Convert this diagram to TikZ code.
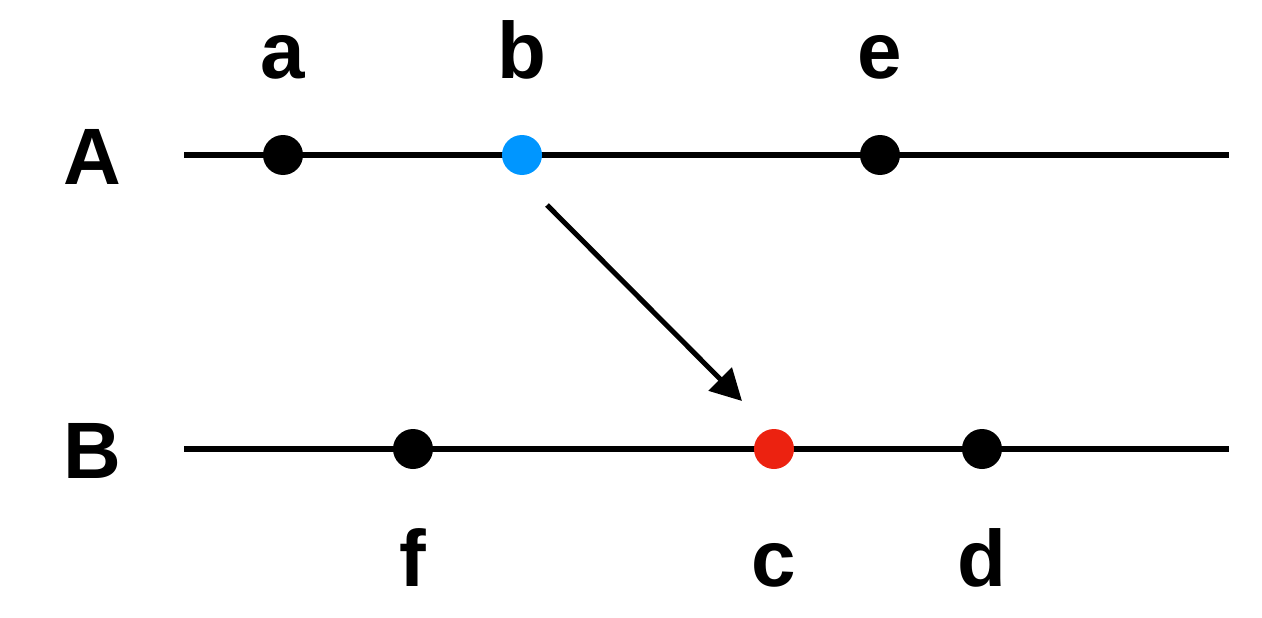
\documentclass[tikz,border=0pt]{standalone}
\usepackage{fontspec}
\setmainfont{Liberation Sans}
\usetikzlibrary{arrows.meta}
\definecolor{dotblue}{RGB}{0,150,255}
\definecolor{dotred}{RGB}{236,34,16}
\begin{document}
\begin{tikzpicture}[x=1pt,y=-1pt,
  dotnode/.style={circle,fill=black,draw=none,minimum size=40pt,inner sep=0pt},
  lbl/.style={anchor=base,font=\fontsize{80}{96}\selectfont\bfseries,inner sep=0pt},
  timeline/.style={line width=5.5pt},
  msg/.style={line width=5pt,-{Triangle[length=31pt,width=32pt]}}]
\useasboundingbox (0,0) rectangle (1262,618);
% lines
\coordinate (A0) at (184,155);
\coordinate (A1) at (1229,155);
\coordinate (B0) at (184,449);
\coordinate (B1) at (1229,449);
\draw[timeline] (A0) -- (A1);
\draw[timeline] (B0) -- (B1);
% dots
\node[dotnode] (a) at (283,155) {};
\node[dotnode,fill=dotblue] (b) at (522,155) {};
\node[dotnode] (e) at (880,155) {};
\node[dotnode] (f) at (413,449) {};
\node[dotnode,fill=dotred] (c) at (774,449) {};
\node[dotnode] (d) at (982,449) {};
% labels
\node[lbl] (la) at (283,79) {a};
\node[lbl] (lb) at (522,79) {b};
\node[lbl] (le) at (880,79) {e};
\node[lbl] (lA) at (92,184) {A};
\node[lbl] (lB) at (92,478) {B};
\node[lbl] (lf) at (413,586) {f};
\node[lbl] (lc) at (774,586) {c};
\node[lbl] (ld) at (982,586) {d};
% arrow
\coordinate (s) at (547,205);
\coordinate (t) at (742,401);
\draw[msg] (s) -- (t);
\end{tikzpicture}
\end{document}
